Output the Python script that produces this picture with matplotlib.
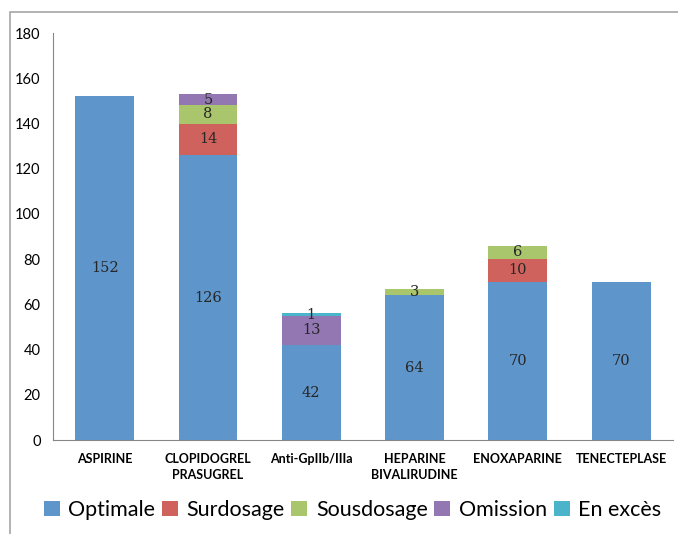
import matplotlib.pyplot as plt
import numpy as np
from matplotlib.patches import Rectangle

categories = ["ASPIRINE", "CLOPIDOGREL\nPRASUGREL", "Anti-GpIIb/IIIa",
              "HEPARINE\nBIVALIRUDINE", "ENOXAPARINE", "TENECTEPLASE"]
optimale = [152, 126, 42, 64, 70, 70]
surdosage = [0, 14, 0, 0, 10, 0]
sousdosage = [0, 8, 0, 3, 6, 0]
omission = [0, 5, 13, 0, 0, 0]
en_exces = [0, 0, 1, 0, 0, 0]

series = [
    ("Optimale", optimale, "#5E95CA"),
    ("Surdosage", surdosage, "#D0625D"),
    ("Sousdosage", sousdosage, "#AAC66D"),
    ("Omission", omission, "#9277B3"),
    ("En excès", en_exces, "#4BB4CA"),
]

fig = plt.figure(figsize=(6.78, 5.34), dpi=100)
ax = fig.add_axes([0.0782, 0.176, 0.914, 0.762])

# outer frame like the spreadsheet chart area
fig.patches.append(Rectangle((10 / 678, -0.01), 1.0, 1 - 12 / 534 + 0.01,
                             transform=fig.transFigure, fill=False,
                             edgecolor="#A6A6A6", linewidth=1.2))

x = np.arange(len(categories))
bottom = np.zeros(len(categories))
for name, vals, color in series:
    vals = np.array(vals, dtype=float)
    ax.bar(x, vals, width=0.57, bottom=bottom, color=color, label=name)
    for xi, b, v in zip(x, bottom, vals):
        if v > 0:
            ax.text(xi, b + v / 2, f"{int(v)}", ha="center", va="center",
                    fontsize=10.5, family="DejaVu Serif", color="#262626")
    bottom += vals

ax.set_xlim(-0.5, len(categories) - 0.5)
ax.set_ylim(0, 180)
ax.set_yticks(range(0, 181, 20))
ax.set_xticks(x)
ax.set_xticklabels(categories, fontsize=9, fontweight="bold", family="Lato",
                   linespacing=1.45, va="top")
ax.tick_params(axis="x", length=0, pad=9)
ax.tick_params(axis="y", length=0, pad=9, labelsize=10.5)
for lab in ax.get_yticklabels():
    lab.set_family("Lato")
for side in ["top", "right"]:
    ax.spines[side].set_visible(False)
ax.spines["left"].set_color("#868686")
ax.spines["bottom"].set_color("#868686")

fig.legend(loc="center", bbox_to_anchor=(0.52, 0.045), ncol=5,
           frameon=False, prop={"family": "Lato", "size": 15.5},
           handlelength=0.75, handleheight=0.75, handletextpad=0.4,
           columnspacing=0.3)

fig.savefig("out.png", dpi=100)
plt.close(fig)
